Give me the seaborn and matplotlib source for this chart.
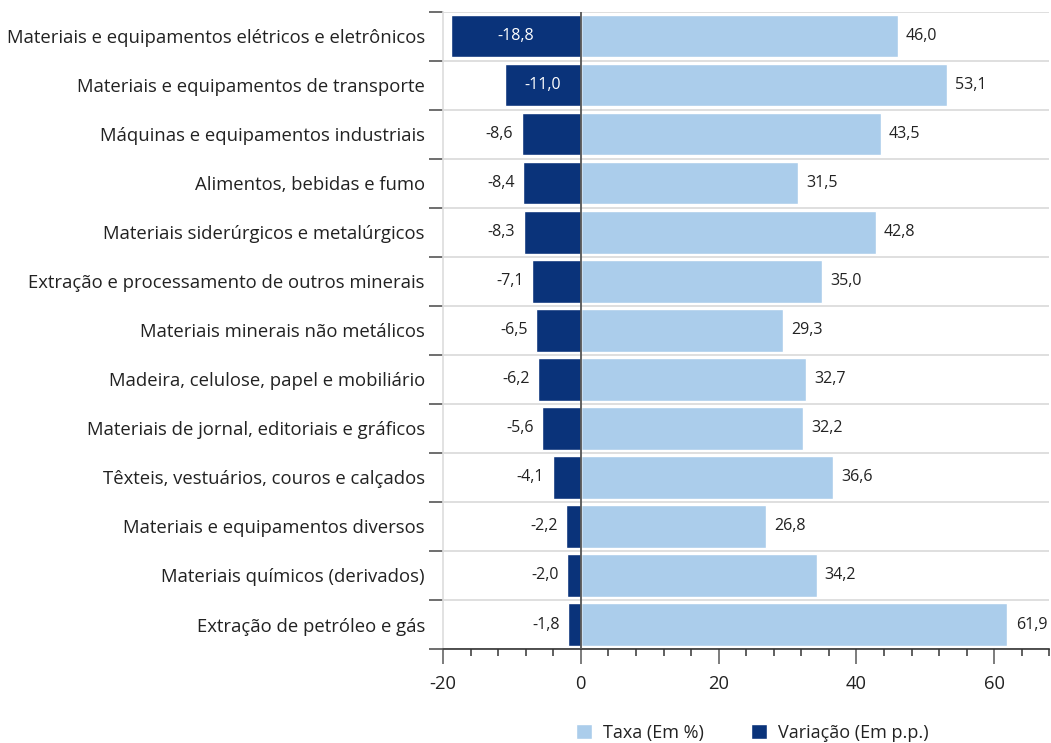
import matplotlib
matplotlib.use("Agg")
import matplotlib.pyplot as plt
import seaborn as sns
import pandas as pd
import numpy as np
from matplotlib.ticker import MultipleLocator, FixedLocator

categorias = [
    "Materiais e equipamentos elétricos e eletrônicos",
    "Materiais e equipamentos de transporte",
    "Máquinas e equipamentos industriais",
    "Alimentos, bebidas e fumo",
    "Materiais siderúrgicos e metalúrgicos",
    "Extração e processamento de outros minerais",
    "Materiais minerais não metálicos",
    "Madeira, celulose, papel e mobiliário",
    "Materiais de jornal, editoriais e gráficos",
    "Têxteis, vestuários, couros e calçados",
    "Materiais e equipamentos diversos",
    "Materiais químicos (derivados)",
    "Extração de petróleo e gás",
]
taxa = [46.0, 53.1, 43.5, 31.5, 42.8, 35.0, 29.3, 32.7, 32.2, 36.6, 26.8, 34.2, 61.9]
variacao = [-18.8, -11.0, -8.6, -8.4, -8.3, -7.1, -6.5, -6.2, -5.6, -4.1, -2.2, -2.0, -1.8]
series_names = ["Taxa (Em %)", "Variação (Em p.p.)"]
cores = {"Taxa (Em %)": "#ABCDEB", "Variação (Em p.p.)": "#0A337A"}

df = pd.DataFrame({
    "categoria": categorias * 2,
    "valor": taxa + variacao,
    "serie": [series_names[0]] * len(categorias) + [series_names[1]] * len(categorias),
})

sns.set_theme(style="white")
plt.rcParams["font.family"] = ["Open Sans", "DejaVu Sans"]
plt.rcParams["axes.unicode_minus"] = False

fig = plt.figure(figsize=(10.51, 7.43), dpi=100)
ax = fig.add_axes([0.4215, 0.1265, 0.577, 0.8575])

sns.barplot(data=df, x="valor", y="categoria", hue="serie", order=categorias,
            hue_order=series_names, palette=cores, dodge=False, width=0.86,
            orient="h", ax=ax, saturation=1, legend=True)

n = len(categorias)
ax.set_xlim(-20, 68)
ax.set_ylim(n - 0.5, -0.5)
ax.set_xlabel("")
ax.set_ylabel("")

ax.xaxis.set_major_locator(FixedLocator([-20, 0, 20, 40, 60]))
ax.xaxis.set_minor_locator(MultipleLocator(4))
ax.tick_params(axis="x", which="both", bottom=True)
ax.tick_params(axis="x", which="major", length=10.5, width=1.2, color="#666666",
               labelsize=13.2, labelcolor="#222222", pad=8)
ax.tick_params(axis="x", which="minor", length=5, width=1.2, color="#444444")

ax.yaxis.set_minor_locator(FixedLocator(np.arange(-0.5, n, 1.0)))
ax.tick_params(axis="y", which="both", left=True)
ax.tick_params(axis="y", which="major", length=0, labelsize=13.3,
               labelcolor="#222222", pad=13)
ax.tick_params(axis="y", which="minor", length=10, width=1.2, color="#555555")
ax.grid(True, axis="y", which="minor", color="#d9d9d9", linewidth=1.2)
ax.set_axisbelow(True)

for s in ["top", "right"]:
    ax.spines[s].set_visible(False)
ax.spines["left"].set_color("#dddddd")
ax.spines["left"].set_linewidth(1.2)
ax.spines["bottom"].set_color("#333333")
ax.spines["bottom"].set_linewidth(1.2)
ax.axvline(0, color="#555555", linewidth=1.3, zorder=5)

for i, (t, v) in enumerate(zip(taxa, variacao)):
    ax.text(t + 1.2, i, f"{t:.1f}".replace(".", ","), va="center", ha="left",
            fontsize=11.5, color="#222222")
    lab = f"{v:.1f}".replace(".", ",")
    if v <= -10:
        ax.text(v / 2, i, lab, va="center", ha="center", fontsize=11.5, color="white")
    else:
        ax.text(v - 1.2, i, lab, va="center", ha="right", fontsize=11.5, color="#222222")

handles, labels = ax.get_legend_handles_labels()
ax.get_legend().remove()
leg = fig.legend(handles, labels, loc="center", bbox_to_anchor=(752 / 1051, 1 - 733 / 743),
                 bbox_transform=fig.transFigure, ncol=2, frameon=False, fontsize=13,
                 handlelength=0.9, handleheight=0.9, columnspacing=2.6, handletextpad=0.6,
                 borderpad=0, borderaxespad=0)
for txt in leg.get_texts():
    txt.set_color("#222222")

fig.savefig("out.png", dpi=100)
